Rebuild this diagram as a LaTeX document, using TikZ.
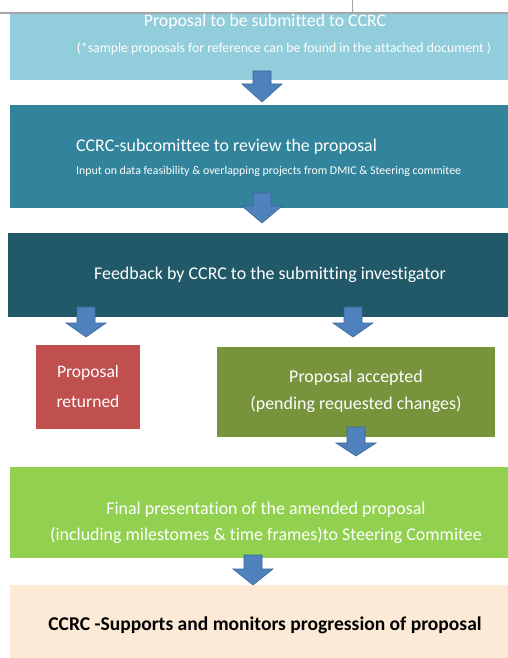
\documentclass[tikz,border=0pt]{standalone}
\usepackage{fontspec}
\setmainfont{Carlito}[RawFeature=-liga]
\definecolor{cLightBlue}{HTML}{92CDDC}
\definecolor{cTeal}{HTML}{31849B}
\definecolor{cDarkTeal}{HTML}{215968}
\definecolor{cRed}{HTML}{C0504D}
\definecolor{cOlive}{HTML}{77933C}
\definecolor{cGreen}{HTML}{92D050}
\definecolor{cBeige}{HTML}{FCE9D6}
\definecolor{cArrow}{HTML}{4F81BD}
\definecolor{cArrowEdge}{HTML}{3B679C}
\newcommand{\blockarrow}[4]{% center x, top y, shoulder y, tip y
  \path[arrowshape] (#1-9,#2) -- (#1+9,#2) -- (#1+9,#3) -- (#1+20,#3) -- (#1,#4)
    -- (#1-20,#3) -- (#1-9,#3) -- cycle;}
\begin{document}
\begin{tikzpicture}[x=1bp,y=-1bp,
  box/.style={draw=none,inner sep=0pt,outer sep=0pt,rectangle},
  wtext/.style={text=white,inner sep=0pt,align=center},
  arrowshape/.style={fill=cArrow,draw=cArrowEdge,line width=0.6bp,line join=miter}]
\useasboundingbox (0,0) rectangle (508,658);
\begin{scope}
\clip (0,0) rectangle (508,658);
\fill[white] (0,0) rectangle (508,658);
% boxes
\node[box,fill=cLightBlue,minimum width=510bp,minimum height=67bp] (b1) at (265,46.5) {};
\node[box,fill=cTeal,minimum width=510bp,minimum height=103bp] (b2) at (265,156.5) {};
\node[box,fill=cDarkTeal,minimum width=512bp,minimum height=84bp] (b3) at (264,275) {};
\node[box,fill=cRed,minimum width=104bp,minimum height=84bp] (b4) at (88,387) {};
\node[box,fill=cOlive,minimum width=278bp,minimum height=90bp] (b5) at (356,392) {};
\node[box,fill=cGreen,minimum width=510bp,minimum height=91bp] (b6) at (265,512.5) {};
\node[box,fill=cBeige,minimum width=510bp,minimum height=80bp] (b7) at (265,625) {};
% page header strip
\fill[white] (0,0) rectangle (508,13);
\draw[gray!70,line width=1.2bp] (0,13) -- (508,13);
\draw[gray!70,line width=1bp] (352,0) -- (352,13);
% texts
\node[wtext,font=\fontsize{17.8}{20}\selectfont] (t1) at (265,22) {Proposal to be submitted to CCRC};
\node[wtext,font=\fontsize{13.8}{16}\selectfont] (t1b) at (284,49) {(*sample proposals for reference can be found in the attached document )};
\node[wtext,anchor=west,font=\fontsize{17.9}{20}\selectfont] (t2) at (76,147) {CCRC-subcomittee to review the proposal};
\node[wtext,anchor=west,font=\fontsize{11.9}{14}\selectfont] (t2b) at (76,171) {Input on data feasibility \& overlapping projects from DMIC \& Steering commitee};
\node[wtext,font=\fontsize{18}{20}\selectfont] (t3) at (270,275) {Feedback by CCRC to the submitting investigator};
\node[wtext,font=\fontsize{17.6}{20}\selectfont] (t4a) at (88,373) {Proposal};
\node[wtext,font=\fontsize{17.6}{20}\selectfont] (t4b) at (88,401) {returned};
\node[wtext,font=\fontsize{18}{20}\selectfont] (t5a) at (356,378) {Proposal accepted};
\node[wtext,font=\fontsize{18}{20}\selectfont] (t5b) at (356,404) {(pending requested changes)};
\node[wtext,font=\fontsize{18}{20}\selectfont] (t6a) at (266,510) {Final presentation of the amended proposal};
\node[wtext,font=\fontsize{18}{20}\selectfont] (t6b) at (266,535) {(including milestomes \& time frames)to Steering Commitee};
\node[inner sep=0pt,text=black,font=\bfseries\fontsize{19.6}{22}\selectfont] (t7) at (265,625) {CCRC -Supports and monitors progression of proposal};
% arrows
\blockarrow{262}{71}{84}{102}
\blockarrow{262}{193}{206}{223}
\blockarrow{86}{307}{323}{337}
\blockarrow{353}{307}{323}{337}
\blockarrow{356}{427}{443}{456}
\blockarrow{253}{555}{569}{585}
\end{scope}
\end{tikzpicture}
\end{document}
